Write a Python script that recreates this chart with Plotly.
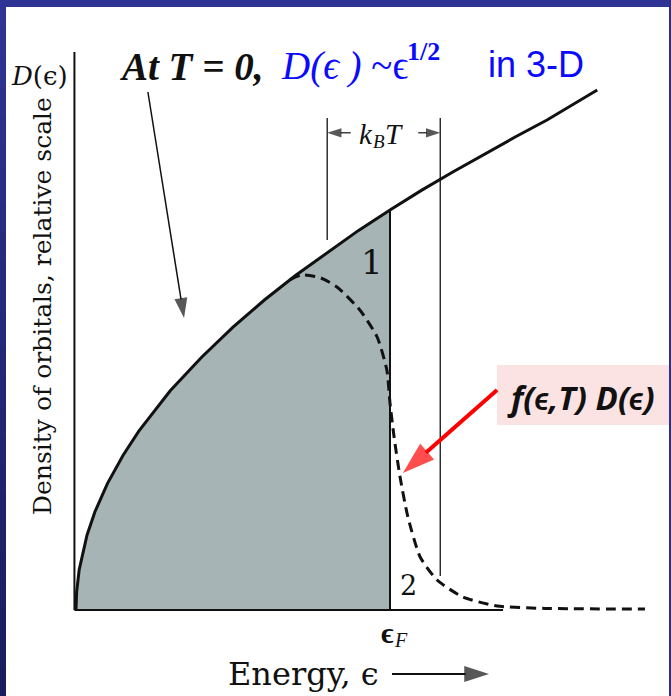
import plotly.graph_objects as go

# Energy in units of the Fermi energy, density of orbitals in units of D(eF)
EF = 1.0
ENERGY = [0.0, 0.002, 0.01, 0.035, 0.06, 0.1, 0.15, 0.2, 0.3, 0.4, 0.5, 0.6,
          0.7, 0.8, 0.9, 1.0, 1.1, 1.2, 1.3, 1.4, 1.5, 1.66]
DOS = [0.0, 0.045, 0.1, 0.187, 0.245, 0.316, 0.387, 0.447, 0.548, 0.632, 0.707,
       0.775, 0.837, 0.894, 0.949, 1.0, 1.049, 1.095, 1.14, 1.183, 1.225, 1.30]

# Occupied density f(e,T) D(e) at finite temperature
ENERGY_T = [0.682, 0.72, 0.78, 0.831, 0.904, 0.959, 0.99, 1.0, 1.013, 1.032,
            1.057, 1.096, 1.15, 1.232, 1.341, 1.494, 1.812]
OCC_T = [0.826, 0.838, 0.83, 0.8075, 0.75, 0.6825, 0.60, 0.5175, 0.4325,
         0.3325, 0.2325, 0.1325, 0.075, 0.0325, 0.01, 0.004, 0.0025]

# Thermal window markers (energy) and their vertical extent
KT_LEFT, KT_RIGHT = 0.80, 1.16
KT_TOP = 1.23
KT_LEFT_BOTTOM, KT_RIGHT_BOTTOM = 0.925, 0.085

W, H = 671, 696
SX, SY = 314.0, 400.0          # pixels per unit energy / unit density
X0_PX, BASE_PX = 76.0, 610.0   # pixel position of the origin


def pp(x, y):
    """pixel position -> paper coordinates"""
    return x / W, 1 - y / H


def px_to_data(x, y):
    """pixel position -> data coordinates (the axes span the whole figure)"""
    return (x - X0_PX) / SX, (BASE_PX - y) / SY


serif = "Liberation Serif, Times New Roman, serif"
book = "DejaVu Serif, serif"
black = "#111111"
blue = "#0a0aff"

fig = go.Figure()

# shaded occupied states at T = 0
fill_x = [e for e in ENERGY if e <= EF] + [EF, 0.0]
fill_y = [d for e, d in zip(ENERGY, DOS) if e <= EF] + [0.0, 0.0]
fig.add_trace(go.Scatter(x=fill_x, y=fill_y, fill="toself", mode="none",
                         fillcolor="#a7b4b6", hoverinfo="skip"))

# density of orbitals D(e)
fig.add_trace(go.Scatter(x=ENERGY, y=DOS, mode="lines",
                         line=dict(color=black, width=3)))

# Fermi level edge
d_ef = DOS[ENERGY.index(EF)]
fig.add_trace(go.Scatter(x=[EF, EF], y=[0, d_ef], mode="lines",
                         line=dict(color=black, width=2)))

# k_B T window markers
fig.add_trace(go.Scatter(x=[KT_LEFT, KT_LEFT], y=[KT_LEFT_BOTTOM, KT_TOP], mode="lines",
                         line=dict(color=black, width=1.3)))
fig.add_trace(go.Scatter(x=[KT_RIGHT, KT_RIGHT], y=[KT_RIGHT_BOTTOM, KT_TOP], mode="lines",
                         line=dict(color=black, width=1.3)))

# f(e,T) D(e)
fig.add_trace(go.Scatter(x=ENERGY_T, y=OCC_T, mode="lines",
                         line=dict(color=black, width=3, dash="10px,6px",
                                   shape="spline", smoothing=0.6)))


# arrows: a line with an arrow-head marker oriented along the segment
def arrow(tail, tip, color, width, head, symbol="arrow"):
    fig.add_trace(go.Scatter(
        x=[tail[0], tip[0]], y=[tail[1], tip[1]], mode="lines+markers",
        line=dict(color=color, width=width),
        marker=dict(symbol=symbol, size=[0, head], color=color, angleref="previous",
                    line=dict(width=0)),
        hoverinfo="skip"))


arrow(px_to_data(392, 674), px_to_data(489, 674), black, 1.8, 26)   # energy axis
arrow((0.875, 1.193), (KT_LEFT, 1.193), black, 1.2, 15)             # k_B T window
arrow((1.09, 1.193), (KT_RIGHT, 1.193), black, 1.2, 15)
arrow((0.229, 1.295), (0.344, 0.73), black, 1.5, 21)                # T = 0 pointer
arrow((1.341, 0.55), (1.041, 0.3425), "#ff0000", 4, 34)             # f(e,T)D(e) pointer

x_range = [-X0_PX / SX, (W - X0_PX) / SX]
y_range = [(BASE_PX - H) / SY, BASE_PX / SY]

shapes = [
    # axes
    dict(type="line", xref="x", yref="y", x0=-0.005, x1=-0.005, y0=0, y1=1.395,
         line=dict(color=black, width=2)),
    dict(type="line", xref="x", yref="y", x0=-0.005, x1=1.36, y0=0, y1=0,
         line=dict(color=black, width=2)),
    # label box
    dict(type="rect", xref="paper", yref="paper",
         x0=pp(497, 0)[0], x1=1.0, y0=pp(0, 425)[1], y1=pp(0, 365)[1],
         fillcolor="#fbe3e4", line=dict(width=0), layer="below"),
    # slide frame
    dict(type="rect", xref="paper", yref="paper", x0=0, x1=1, y0=pp(0, 7)[1], y1=1,
         fillcolor="#2f3494", line=dict(width=0), layer="above"),
    dict(type="rect", xref="paper", yref="paper", x0=pp(669, 0)[0], x1=1, y0=0, y1=1,
         fillcolor="#2a2e8c", line=dict(width=0), layer="above"),
]
# left frame strip, darkening toward the bottom
n = 24
for i in range(n):
    t = i / (n - 1)
    r = int(47 + (26 - 47) * t)
    g = int(52 + (28 - 52) * t)
    b = int(148 + (92 - 148) * t)
    shapes.append(dict(type="rect", xref="paper", yref="paper",
                       x0=0, x1=pp(6, 0)[0], y0=1 - (i + 1) / n, y1=1 - i / n,
                       fillcolor=f"rgb({r},{g},{b})", line=dict(width=0), layer="above"))

ann = []


def text(x, y, s, size, family=serif, color=black, xanchor="center", yanchor="middle",
         angle=0):
    px_, py_ = pp(x, y)
    ann.append(dict(x=px_, y=py_, xref="paper", yref="paper", text=s, showarrow=False,
                    font=dict(family=family, size=size, color=color),
                    xanchor=xanchor, yanchor=yanchor, textangle=angle,
                    borderpad=0, borderwidth=0))


# headline
text(119, 66, "<b><i>At T = 0,</i></b>", 39, xanchor="left")
text(281, 66, "<i>D(ϵ )</i> ~ϵ", 39, color=blue, xanchor="left")
text(407, 52, "<b>1/2</b>", 26, color=blue, xanchor="left")
text(488, 64, "in 3-D", 36, family="Liberation Sans, Arial, sans-serif",
     color=blue, xanchor="left")

# axis texts
text(39, 76, "<i>D</i>(ϵ)", 26, family=book)
text(42, 306, "Density of orbitals, relative scale", 25, family=book, angle=-90)
text(394, 632, "<b>ϵ</b>", 30, xanchor="right")
text(394, 640, "<i>F</i>", 20, xanchor="left")
text(303, 674, "Energy, ϵ", 32, family=book)

# k_B T
text(373, 134, "<i>k</i>", 29, xanchor="right")
text(373, 141, "<i>B</i>", 19, xanchor="left")
text(385, 134, "<i>T</i>", 29, xanchor="left")

# region labels
text(372, 262, "1", 34, family=book)
text(408, 585, "2", 27, family=book)

# f(e,T) D(e) label, sized to sit inside its box
text(507, 397, "<b><i>f(ϵ,T) D(ϵ)</i></b>", 33,
     family="Open Sans, Lato, sans-serif", xanchor="left")

fig.update_layout(
    width=W, height=H, margin=dict(l=0, r=0, t=0, b=0),
    paper_bgcolor="white", plot_bgcolor="rgba(0,0,0,0)",
    showlegend=False, shapes=shapes, annotations=ann,
    xaxis=dict(range=x_range, visible=False, fixedrange=True),
    yaxis=dict(range=y_range, visible=False, fixedrange=True),
)

fig.write_html("out.html")
